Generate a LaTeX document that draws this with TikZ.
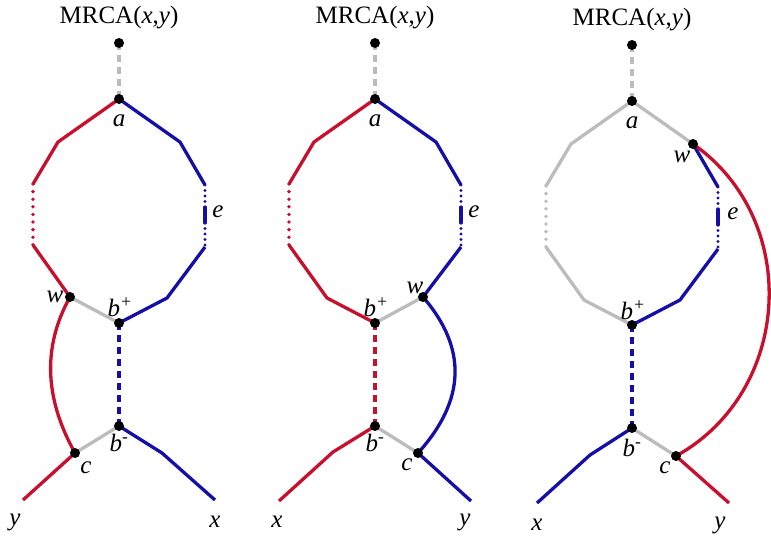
\documentclass[tikz,border=0pt]{standalone}
\usepackage{fontspec}
\setmainfont{Liberation Serif}
\definecolor{cred}{RGB}{200,16,46}
\definecolor{cblue}{RGB}{22,14,168}
\definecolor{cgray}{RGB}{188,188,188}
\begin{document}
\begin{tikzpicture}[x=1pt,y=-1pt,
  br/.style={line width=3.3pt,line join=round},
  redl/.style={br,draw=cred},
  bluel/.style={br,draw=cblue},
  grayl/.style={br,draw=cgray},
  dashl/.style={dash pattern=on 7pt off 5pt},
  dotl/.style={line width=3.8pt,line cap=round,dash pattern=on 0pt off 7.6pt},
  dashdotl/.style={line cap=round,dash pattern=on 0pt off 5.5pt on 0pt off 5.5pt on 0pt off 5.5pt on 0pt off 5.5pt on 16pt off 5.5pt on 0pt off 5.5pt on 0pt off 5.5pt on 0pt off 5.5pt on 0pt off 20pt},
  dotn/.style={circle,fill=black,inner sep=0pt,minimum size=10pt},
  lbl/.style={font=\fontsize{25}{30}\selectfont\itshape,inner sep=0pt},
  ttl/.style={font=\fontsize{25}{30}\selectfont,inner sep=0pt}]
\useasboundingbox (0,0) rectangle (771,542);

% ---------- panel 1 ----------
\coordinate (t1) at (119,43);
\coordinate (a1) at (119,99);
\coordinate (l1a) at (58,142);
\coordinate (l1b) at (33,184);
\coordinate (l1c) at (33,245);
\coordinate (w1) at (70,297);
\coordinate (r1a) at (180,142);
\coordinate (r1b) at (205,185);
\coordinate (r1c) at (205,247);
\coordinate (r1d) at (167,298);
\coordinate (bp1) at (119,323);
\coordinate (bm1) at (119,426);
\coordinate (c1) at (75,453);
\coordinate (ye1) at (23,500);
\coordinate (xm1) at (162,453);
\coordinate (xe1) at (215,500);

\draw[grayl,dashl] (t1) -- (a1);
\draw[redl] (a1) -- (l1a) -- (l1b);
\draw[redl,dotl] (l1b) -- (l1c);
\draw[redl] (l1c) -- (w1) .. controls +(-29,52) and +(-29,-52) .. (c1) -- (ye1);
\draw[bluel] (a1) -- (r1a) -- (r1b);
\draw[bluel,dashdotl] (r1b) -- (r1c);
\draw[bluel] (r1c) -- (r1d) -- (bp1);
\draw[grayl] (w1) -- (bp1);
\draw[bluel,dashl] (bp1) -- (bm1);
\draw[grayl] (bm1) -- (c1);
\draw[bluel] (bm1) -- (xm1) -- (xe1);

\foreach \p in {t1,a1,w1,bp1,bm1,c1} \node[dotn] (d\p) at (\p) {};

\node[ttl] (m1) at (119,18) {MRCA(\textit{x},\textit{y})};
\node[lbl] (la1) at (119,121) {a};
\node[lbl] (le1) at (218,212) {e};
\node[lbl] (lw1) at (55,297) {w};
\node[lbl] (lbp1) at (120,307) {b\textsuperscript{+}};
\node[lbl] (lbm1) at (119,443) {b\textsuperscript{-}};
\node[lbl] (lc1) at (86,468) {c};
\node[lbl] (ly1) at (15,522) {y};
\node[lbl] (lx1) at (215,522) {x};

% ---------- panel 2 ----------
\coordinate (t2) at (375,43);
\coordinate (a2) at (375,99);
\coordinate (l2a) at (314,142);
\coordinate (l2b) at (289,184);
\coordinate (l2c) at (289,245);
\coordinate (l2d) at (327,298);
\coordinate (bp2) at (375,323);
\coordinate (r2a) at (436,142);
\coordinate (r2b) at (461,185);
\coordinate (r2c) at (461,247);
\coordinate (w2) at (423,297);
\coordinate (bm2) at (375,426);
\coordinate (xm2) at (333,452);
\coordinate (xe2) at (279,501);
\coordinate (c2) at (418,453);
\coordinate (ye2) at (471,501);

\draw[grayl,dashl] (t2) -- (a2);
\draw[redl] (a2) -- (l2a) -- (l2b);
\draw[redl,dotl] (l2b) -- (l2c);
\draw[redl] (l2c) -- (l2d) -- (bp2);
\draw[redl,dashl] (bp2) -- (bm2);
\draw[redl] (bm2) -- (xm2) -- (xe2);
\draw[bluel] (a2) -- (r2a) -- (r2b);
\draw[bluel,dashdotl] (r2b) -- (r2c);
\draw[bluel] (r2c) -- (w2) .. controls +(45,52) and +(47,-52) .. (c2) -- (ye2);
\draw[grayl] (w2) -- (bp2);
\draw[grayl] (bm2) -- (c2);

\foreach \p in {t2,a2,w2,bp2,bm2,c2} \node[dotn] (d\p) at (\p) {};

\node[ttl] (m2) at (375,18) {MRCA(\textit{x},\textit{y})};
\node[lbl] (la2) at (375,121) {a};
\node[lbl] (le2) at (474,212) {e};
\node[lbl] (lw2) at (415,288) {w};
\node[lbl] (lbp2) at (376,307) {b\textsuperscript{+}};
\node[lbl] (lbm2) at (375,443) {b\textsuperscript{-}};
\node[lbl] (lc2) at (407,465) {c};
\node[lbl] (lx2) at (277,522) {x};
\node[lbl] (ly2) at (465,522) {y};

% ---------- panel 3 ----------
\coordinate (t3) at (632,45);
\coordinate (a3) at (632,101);
\coordinate (l3a) at (571,144);
\coordinate (l3b) at (546,186);
\coordinate (l3c) at (546,247);
\coordinate (l3d) at (584,300);
\coordinate (bp3) at (632,325);
\coordinate (w3) at (693,144);
\coordinate (r3b) at (718,187);
\coordinate (r3c) at (718,249);
\coordinate (r3d) at (680,300);
\coordinate (bm3) at (632,428);
\coordinate (xm3) at (590,455);
\coordinate (xe3) at (537,503);
\coordinate (c3) at (676,456);
\coordinate (ye3) at (729,503);

\draw[grayl,dashl] (t3) -- (a3);
\draw[grayl] (a3) -- (l3a) -- (l3b);
\draw[grayl,dotl] (l3b) -- (l3c);
\draw[grayl] (l3c) -- (l3d) -- (bp3);
\draw[grayl] (a3) -- (w3);
\draw[bluel] (w3) -- (r3b);
\draw[bluel,dashdotl] (r3b) -- (r3c);
\draw[bluel] (r3c) -- (r3d) -- (bp3);
\draw[bluel,dashl] (bp3) -- (bm3);
\draw[bluel] (bm3) -- (xm3) -- (xe3);
\draw[grayl] (bm3) -- (c3);
\draw[redl] (w3) .. controls +(109,76) and +(116,-64) .. (c3) -- (ye3);

\foreach \p in {t3,a3,w3,bp3,bm3,c3} \node[dotn] (d\p) at (\p) {};

\node[ttl] (m3) at (632,20) {MRCA(\textit{x},\textit{y})};
\node[lbl] (la3) at (632,123) {a};
\node[lbl] (lw3) at (682,157) {w};
\node[lbl] (le3) at (733,214) {e};
\node[lbl] (lbp3) at (633,310) {b\textsuperscript{+}};
\node[lbl] (lbm3) at (632,448) {b\textsuperscript{-}};
\node[lbl] (lc3) at (665,468) {c};
\node[lbl] (lx3) at (537,525) {x};
\node[lbl] (ly3) at (720,525) {y};
\end{tikzpicture}
\end{document}
